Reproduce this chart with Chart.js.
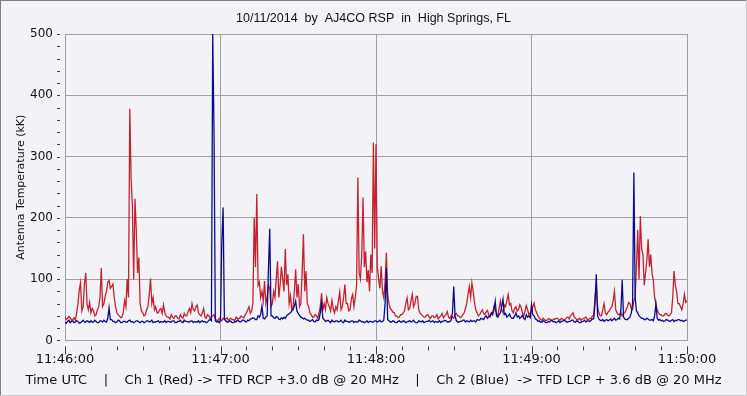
<!DOCTYPE html>
<html>
<head>
<meta charset="utf-8">
<script src="https://cdn.jsdelivr.net/npm/chart.js@4/dist/chart.umd.min.js"></script>
<style>
  html, body { margin: 0; padding: 0; background: #f3f3f7; }
  #wrap { width: 747px; height: 396px; }
</style>
</head>
<body>
<div id="wrap"><canvas id="chart" width="747" height="396"></canvas></div>
<script>
// two samples per second, starting 11:46:00 UTC
const timeLabels = ['11:46:00', '11:47:00', '11:48:00', '11:49:00', '11:50:00'];
const sampleStep = 0.5;

// Ch 1 (Red) -> TFD RCP, antenna temperature in kK (one row = 10 s)
const ch1Red = [
  38, 34, 36, 39, 37, 33, 34, 37, 33, 45, 60, 82, 94, 48, 55, 92, 110, 60, 50, 62,
  45, 52, 48, 40, 42, 50, 55, 70, 118, 55, 60, 72, 80, 95, 98, 85, 88, 92, 70, 55,
  45, 42, 40, 37, 38, 46, 65, 55, 100, 70, 378, 264, 220, 100, 231, 180, 110, 135, 60, 48,
  45, 40, 42, 50, 55, 75, 101, 60, 70, 50, 55, 45, 45, 50, 52, 44, 58, 46, 40, 38,
  38, 35, 42, 38, 36, 40, 40, 36, 35, 42, 38, 36, 44, 40, 40, 47, 52, 45, 60, 50,
  48, 55, 58, 45, 42, 40, 45, 52, 38, 36, 42, 40, 36, 38, 40, 42, 35, 33, 32, 36,
  34, 32, 36, 34, 35, 37, 33, 35, 36, 34, 34, 32, 38, 36, 35, 37, 40, 38, 37, 42,
  45, 50, 55, 44, 48, 60, 200, 120, 239, 90, 95, 70, 80, 65, 97, 60, 70, 90, 85, 55,
  60, 80, 70, 100, 129, 70, 90, 120, 100, 80, 149, 90, 108, 60, 73, 50, 55, 80, 116, 70,
  92, 55, 60, 110, 173, 80, 113, 60, 55, 45, 42, 38, 38, 42, 40, 36, 45, 55, 77, 50,
  60, 50, 70, 60, 55, 48, 65, 52, 45, 55, 50, 65, 79, 50, 55, 70, 91, 60, 60, 48,
  50, 68, 75, 55, 70, 90, 266, 110, 100, 140, 233, 120, 145, 95, 115, 80, 140, 110, 323, 150,
  320, 120, 100, 85, 121, 80, 70, 95, 143, 75, 60, 52, 50, 46, 45, 40, 40, 37, 38, 42,
  42, 45, 48, 60, 69, 50, 52, 65, 75, 55, 60, 72, 72, 50, 45, 42, 40, 38, 38, 41,
  42, 38, 36, 40, 40, 37, 38, 42, 35, 38, 40, 44, 37, 40, 42, 47, 38, 36, 40, 38,
  36, 42, 44, 40, 40, 37, 38, 42, 45, 52, 60, 75, 88, 70, 94, 80, 62, 50, 45, 40,
  42, 46, 50, 44, 42, 46, 49, 42, 38, 44, 45, 55, 50, 44, 40, 52, 64, 50, 45, 58,
  55, 65, 75, 58, 60, 48, 45, 52, 55, 48, 50, 58, 54, 45, 40, 48, 57, 50, 42, 45,
  48, 55, 61, 50, 45, 40, 36, 34, 33, 36, 34, 32, 33, 35, 35, 33, 32, 35, 34, 36,
  36, 34, 33, 36, 35, 33, 34, 37, 38, 35, 40, 42, 45, 38, 36, 34, 34, 36, 33, 35,
  35, 37, 38, 34, 34, 36, 36, 40, 40, 70, 90, 55, 45, 40, 40, 50, 60, 45, 42, 46,
  48, 52, 55, 65, 80, 50, 45, 42, 42, 45, 40, 44, 45, 50, 55, 62, 60, 52, 50, 65,
  70, 120, 180, 100, 203, 150, 140, 90, 110, 130, 165, 120, 140, 110, 98, 70, 60, 50, 45, 42,
  42, 40, 40, 43, 44, 41, 40, 42, 45, 70, 113, 90, 80, 60, 60, 55, 50, 60, 75, 62,
  65
];

// Ch 2 (Blue) -> TFD LCP
const ch2Blue = [
  30, 28, 31, 33, 29, 31, 32, 29, 30, 32, 31, 28, 29, 31, 33, 30, 30, 32, 31, 29,
  32, 30, 30, 33, 31, 29, 29, 32, 32, 30, 33, 31, 30, 36, 53, 34, 34, 31, 31, 29,
  30, 33, 32, 29, 29, 31, 31, 30, 30, 32, 33, 30, 31, 29, 30, 32, 32, 30, 29, 31,
  31, 29, 30, 32, 32, 30, 31, 33, 29, 30, 30, 31, 32, 29, 31, 30, 30, 32, 29, 31,
  31, 30, 30, 32, 32, 29, 29, 31, 31, 33, 30, 29, 33, 31, 31, 30, 30, 32, 32, 29,
  31, 30, 30, 32, 29, 31, 32, 30, 31, 29, 30, 33, 34, 32, 500, 340, 32, 30, 31, 29,
  33, 160, 217, 35, 32, 30, 30, 32, 31, 29, 29, 31, 30, 33, 32, 30, 31, 33, 33, 31,
  30, 33, 32, 35, 35, 37, 36, 34, 34, 40, 38, 42, 56, 36, 35, 38, 40, 116, 182, 40,
  40, 37, 36, 39, 38, 35, 34, 37, 35, 38, 36, 40, 42, 44, 45, 48, 50, 56, 64, 48,
  44, 41, 38, 37, 35, 36, 34, 33, 33, 31, 32, 34, 31, 30, 33, 32, 34, 45, 61, 36,
  34, 31, 32, 33, 31, 29, 33, 31, 30, 32, 32, 30, 31, 33, 30, 29, 33, 31, 31, 30,
  30, 32, 32, 29, 31, 30, 30, 33, 32, 30, 31, 29, 30, 32, 29, 31, 31, 30, 30, 32,
  32, 30, 31, 33, 30, 31, 33, 60, 118, 34, 32, 30, 30, 32, 31, 29, 29, 31, 32, 30,
  30, 32, 31, 29, 30, 31, 32, 30, 31, 33, 30, 29, 29, 32, 31, 30, 32, 29, 30, 31,
  31, 33, 30, 31, 32, 29, 31, 30, 30, 32, 29, 31, 31, 33, 32, 30, 30, 31, 33, 45,
  88, 40, 32, 30, 30, 31, 31, 33, 33, 30, 32, 31, 30, 33, 31, 32, 32, 30, 34, 33,
  33, 36, 35, 34, 38, 40, 36, 39, 40, 45, 42, 50, 64, 40, 38, 42, 45, 55, 67, 42,
  44, 38, 40, 43, 38, 36, 36, 40, 45, 38, 40, 36, 38, 41, 36, 34, 42, 38, 40, 37,
  58, 42, 40, 35, 34, 31, 32, 30, 30, 32, 31, 29, 29, 31, 30, 33, 32, 30, 31, 29,
  30, 32, 29, 31, 31, 33, 32, 30, 30, 31, 31, 33, 33, 30, 30, 32, 31, 29, 29, 31,
  31, 33, 30, 32, 32, 31, 33, 35, 35, 60, 108, 40, 35, 33, 32, 34, 31, 33, 34, 32,
  33, 35, 32, 34, 36, 33, 34, 36, 35, 50, 99, 38, 35, 34, 34, 36, 38, 45, 60, 274,
  70, 48, 45, 40, 38, 36, 36, 34, 34, 36, 35, 33, 33, 34, 32, 40, 59, 36, 33, 34,
  32, 33, 31, 32, 34, 33, 32, 31, 33, 34, 31, 33, 32, 34, 34, 32, 33, 31, 32, 33,
  33
];

const titleText  = '10/11/2014  by  AJ4CO RSP  in  High Springs, FL';
const footerText = 'Time UTC    |    Ch 1 (Red) -> TFD RCP +3.0 dB @ 20 MHz    |    Ch 2 (Blue)  -> TFD LCP + 3.6 dB @ 20 MHz';

const toPoints = arr => arr.map((v, i) => ({ x: i * sampleStep, y: v }));

const FONT = 'DejaVu Sans, sans-serif';
const GRID = '#a0a0a0';

// background, window frame and the small detached tick marks
const framePlugin = {
  id: 'frame',
  beforeDraw(chart) {
    const { ctx, width, height } = chart;
    ctx.save();
    ctx.fillStyle = '#f3f3f7';
    ctx.fillRect(0, 0, width, height);
    ctx.fillStyle = '#7f7f7f';
    ctx.fillRect(0, 0, width, 1);
    ctx.fillRect(0, 0, 1, height);
    ctx.fillStyle = '#c8c8c8';
    ctx.fillRect(0, height - 1, width, 1);
    ctx.fillRect(width - 1, 0, 1, height);
    ctx.restore();
  },
  afterDraw(chart) {
    const { ctx, chartArea: a, scales: { x, y } } = chart;
    ctx.save();
    ctx.strokeStyle = '#404040';
    ctx.lineWidth = 1;
    ctx.beginPath();
    for (let v = x.min; v <= x.max; v += 10) {
      const px = Math.round(x.getPixelForValue(v)) + 0.5;
      const len = v % 60 === 0 ? 8 : 4;
      ctx.moveTo(px, a.bottom + 6);
      ctx.lineTo(px, a.bottom + 6 + len);
    }
    for (let v = y.min; v <= y.max; v += 20) {
      const py = Math.round(y.getPixelForValue(v)) + 0.5;
      ctx.moveTo(a.left - 8, py);
      ctx.lineTo(a.left - 5, py);
    }
    ctx.stroke();
    ctx.restore();
  }
};

new Chart(document.getElementById('chart'), {
  type: 'line',
  data: {
    datasets: [
      {
        label: 'Ch 2 (Blue)',
        data: toPoints(ch2Blue),
        borderColor: '#0a0a8c',
        borderWidth: 1.3,
        pointRadius: 0,
        tension: 0,
        order: 0,
      },
      {
        label: 'Ch 1 (Red)',
        data: toPoints(ch1Red),
        borderColor: '#c2222f',
        borderWidth: 1.3,
        pointRadius: 0,
        tension: 0,
        order: 1,
      }
    ]
  },
  options: {
    responsive: false,
    animation: false,
    layout: { padding: 0 },
    plugins: {
      legend: { display: false },
      tooltip: { enabled: false },
      title: {
        display: true,
        text: titleText,
        color: '#111',
        font: { family: 'Liberation Sans, Arial, sans-serif', size: 12.5, weight: 'normal' },
        padding: { top: 11, bottom: 8 },
      },
      subtitle: {
        display: true,
        position: 'bottom',
        text: footerText,
        color: '#111',
        font: { family: FONT, size: 13, weight: 'normal' },
        padding: { top: 1, bottom: 8 },
      }
    },
    scales: {
      x: {
        type: 'linear',
        min: 0,
        max: 240,
        afterFit: s => { s.height = 31; },
        ticks: {
          stepSize: 60,
          color: '#111',
          padding: 11,
          maxRotation: 0,
          font: { family: FONT, size: 13 },
          callback: v => timeLabels[v / 60],
        },
        grid: { color: GRID, drawTicks: false },
        border: { color: GRID },
      },
      y: {
        min: 0,
        max: 500,
        afterFit: s => { s.width = 65; },
        ticks: {
          stepSize: 100,
          color: '#111',
          padding: 12,
          font: { family: FONT, size: 12 },
        },
        title: {
          display: true,
          text: 'Antenna Temperature (kK)',
          color: '#111',
          font: { family: FONT, size: 11 },
          padding: { top: 15, bottom: 2 },
        },
        grid: { color: GRID, drawTicks: false },
        border: { color: GRID },
      },
      // empty right-hand margin, keeps the titles centred on the whole window
      right: {
        position: 'right',
        display: true,
        afterFit: s => { s.width = 60; },
        ticks: { display: false },
        grid: { display: false },
        border: { display: false },
      }
    }
  },
  plugins: [framePlugin]
});
</script>
</body>
</html>
